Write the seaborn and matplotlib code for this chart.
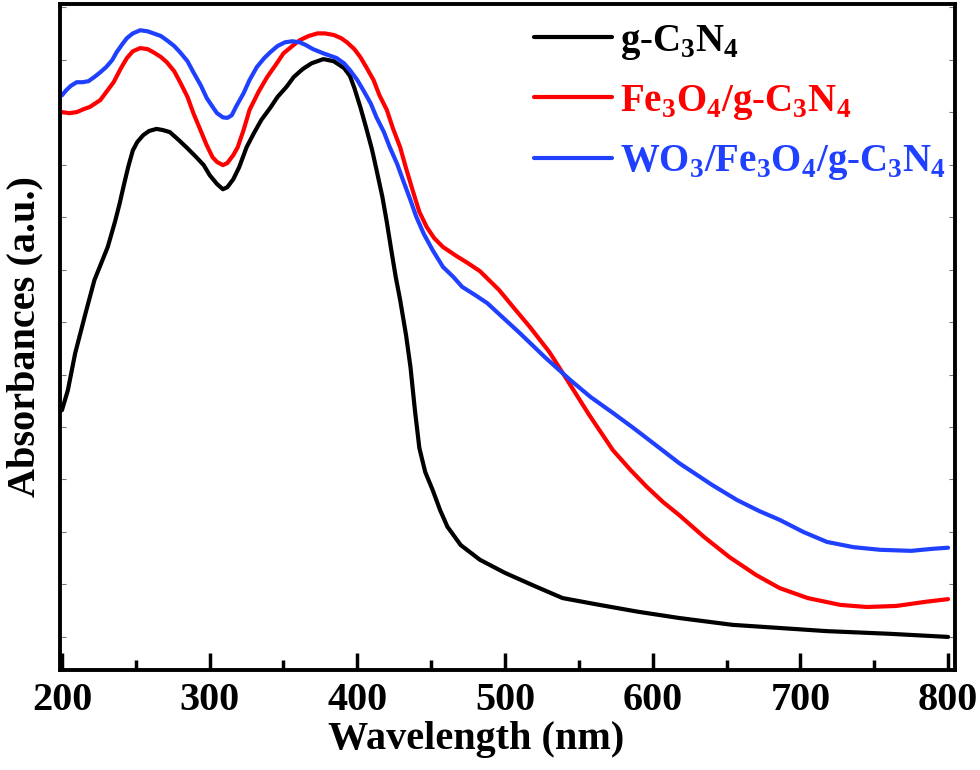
import numpy as np
import pandas as pd
import matplotlib
matplotlib.use("Agg")
import matplotlib.pyplot as plt
import seaborn as sns
from matplotlib.ticker import MultipleLocator

# g-C3N4
wl_cn = [200, 204, 209, 216, 222, 231, 236, 239, 242, 245, 248, 251, 255, 259, 264, 268, 273, 279,
         285, 291, 296, 300, 305, 309, 312, 316, 320, 325, 330, 335, 341, 346, 352, 357, 363, 369,
         377, 384, 391, 395, 398, 402, 406, 410, 413, 417, 420, 423, 426, 429, 433, 436, 439, 442,
         446, 451, 456, 461, 470, 483, 500, 520, 539, 564, 590, 618, 654, 718, 760, 800]
abs_cn = [0.432, 0.470, 0.541, 0.617, 0.680, 0.743, 0.792, 0.825, 0.862, 0.897, 0.927, 0.943,
          0.956, 0.964, 0.968, 0.966, 0.962, 0.947, 0.931, 0.914, 0.899, 0.880, 0.863, 0.853,
          0.857, 0.872, 0.895, 0.933, 0.960, 0.985, 1.008, 1.029, 1.048, 1.067, 1.082, 1.093,
          1.101, 1.097, 1.084, 1.069, 1.046, 1.010, 0.970, 0.928, 0.890, 0.838, 0.790, 0.737,
          0.686, 0.642, 0.575, 0.514, 0.432, 0.360, 0.314, 0.280, 0.242, 0.210, 0.175, 0.147,
          0.122, 0.097, 0.074, 0.061, 0.048, 0.036, 0.023, 0.011, 0.006, 0.000]

# Fe3O4/g-C3N4
wl_fe = [200, 205, 210, 215, 219, 226, 231, 235, 240, 244, 248, 253, 258, 262, 267, 271, 276, 280,
         285, 289, 293, 298, 302, 305, 309, 312, 316, 319, 323, 327, 333, 339, 345, 350, 356, 361,
         367, 373, 378, 384, 389, 393, 398, 402, 406, 411, 415, 420, 424, 429, 433, 438, 442, 447,
         452, 458, 467, 475, 483, 496, 506, 517, 530, 542, 557, 573, 585, 596, 607, 618, 635, 652,
         670, 686, 705, 727, 745, 765, 785, 800]
abs_fe = [1.000, 0.998, 1.000, 1.006, 1.010, 1.023, 1.042, 1.057, 1.084, 1.103, 1.116, 1.122,
          1.120, 1.114, 1.105, 1.095, 1.078, 1.057, 1.029, 0.998, 0.971, 0.937, 0.914, 0.905,
          0.899, 0.903, 0.918, 0.933, 0.966, 1.004, 1.038, 1.067, 1.091, 1.112, 1.126, 1.137,
          1.145, 1.150, 1.150, 1.147, 1.141, 1.133, 1.120, 1.105, 1.086, 1.061, 1.032, 1.004,
          0.970, 0.933, 0.893, 0.846, 0.810, 0.781, 0.760, 0.743, 0.726, 0.712, 0.697, 0.661,
          0.627, 0.590, 0.543, 0.490, 0.423, 0.356, 0.318, 0.286, 0.257, 0.232, 0.190, 0.152,
          0.118, 0.093, 0.074, 0.061, 0.057, 0.059, 0.067, 0.072]

# WO3/Fe3O4/g-C3N4
wl_wo = [200, 203, 206, 210, 214, 218, 222, 226, 230, 234, 237, 241, 244, 248, 253, 258, 262, 267,
         271, 276, 280, 285, 289, 294, 298, 302, 305, 309, 312, 315, 318, 323, 327, 332, 337, 341,
         346, 351, 356, 361, 365, 370, 377, 382, 386, 391, 395, 400, 404, 409, 413, 418, 422, 427,
         431, 436, 440, 445, 451, 458, 465, 471, 480, 488, 498, 510, 527, 544, 558, 573, 587, 600,
         618, 640, 657, 672, 686, 702, 718, 736, 754, 775, 790, 800]
abs_wo = [1.032, 1.042, 1.050, 1.057, 1.057, 1.059, 1.067, 1.076, 1.086, 1.099, 1.114, 1.130,
          1.141, 1.150, 1.156, 1.154, 1.150, 1.145, 1.137, 1.126, 1.114, 1.097, 1.076, 1.051,
          1.027, 1.010, 0.998, 0.990, 0.989, 0.994, 1.011, 1.036, 1.061, 1.086, 1.103, 1.114,
          1.126, 1.133, 1.135, 1.133, 1.128, 1.120, 1.112, 1.107, 1.103, 1.093, 1.080, 1.061,
          1.042, 1.017, 0.990, 0.962, 0.933, 0.901, 0.870, 0.832, 0.800, 0.768, 0.737, 0.705,
          0.686, 0.667, 0.651, 0.636, 0.610, 0.579, 0.533, 0.490, 0.457, 0.427, 0.398, 0.370,
          0.331, 0.290, 0.261, 0.240, 0.223, 0.200, 0.181, 0.171, 0.166, 0.164, 0.168, 0.170]

labels = [r"g-C$_\mathbf{3}$N$_\mathbf{4}$",
          r"Fe$_\mathbf{3}$O$_\mathbf{4}$/g-C$_\mathbf{3}$N$_\mathbf{4}$",
          r"WO$_\mathbf{3}$/Fe$_\mathbf{3}$O$_\mathbf{4}$/g-C$_\mathbf{3}$N$_\mathbf{4}$"]
colors = ["#000000", "#ff0000", "#2040ff"]

df = pd.concat([
    pd.DataFrame({"wl": wl_cn, "A": abs_cn, "sample": labels[0]}),
    pd.DataFrame({"wl": wl_fe, "A": abs_fe, "sample": labels[1]}),
    pd.DataFrame({"wl": wl_wo, "A": abs_wo, "sample": labels[2]}),
])

sns.set_style("ticks")
plt.rcParams["font.family"] = ["Liberation Serif", "DejaVu Serif"]
plt.rcParams["font.weight"] = "bold"
plt.rcParams["mathtext.fontset"] = "custom"
plt.rcParams["mathtext.rm"] = "Liberation Serif:bold"
plt.rcParams["mathtext.bf"] = "Liberation Serif:bold"
for key in ["text.color", "axes.labelcolor", "xtick.color", "ytick.color", "axes.edgecolor"]:
    plt.rcParams[key] = "black"

fig = plt.figure(figsize=(9.8, 7.7), dpi=100)
ax = fig.add_axes([0.0617, 0.1299, 0.9128, 0.8649])

sns.lineplot(data=df, x="wl", y="A", hue="sample", palette=colors, linewidth=3,
             sort=False, estimator=None, ax=ax)

ax.set_xlim(199, 804.7)
ax.set_ylim(-0.063, 1.206)
ax.xaxis.set_major_locator(MultipleLocator(100))
ax.xaxis.set_minor_locator(MultipleLocator(50))
ax.yaxis.set_major_locator(MultipleLocator(0.1))
ax.tick_params(axis="x", which="major", direction="in", length=12, width=2.5,
               labelsize=29, pad=9)
ax.tick_params(axis="x", which="minor", direction="in", length=7, width=2.5)
ax.tick_params(axis="y", which="major", direction="in", length=4, width=0.8,
               color="#777777", left=True, right=True, labelleft=False)
for lab in ax.get_xticklabels():
    lab.set_fontweight("bold")
for sp in ax.spines.values():
    sp.set_linewidth(2.8)

ax.set_xlabel("Wavelength (nm)", fontsize=29, fontweight="bold", labelpad=0)
ax.xaxis.set_label_coords(0.465, -0.077)
ax.set_ylabel("Absorbances (a.u.)", fontsize=29, fontweight="bold", labelpad=12)

leg = ax.legend(loc="upper right", bbox_to_anchor=(1.02, 1.013), frameon=False,
                fontsize=28, handlelength=2.0, handletextpad=0.2, labelspacing=0.55,
                borderaxespad=0.3, labelcolor="linecolor")
for line in leg.get_lines():
    line.set_linewidth(3)

fig.savefig("out.png", dpi=100)
